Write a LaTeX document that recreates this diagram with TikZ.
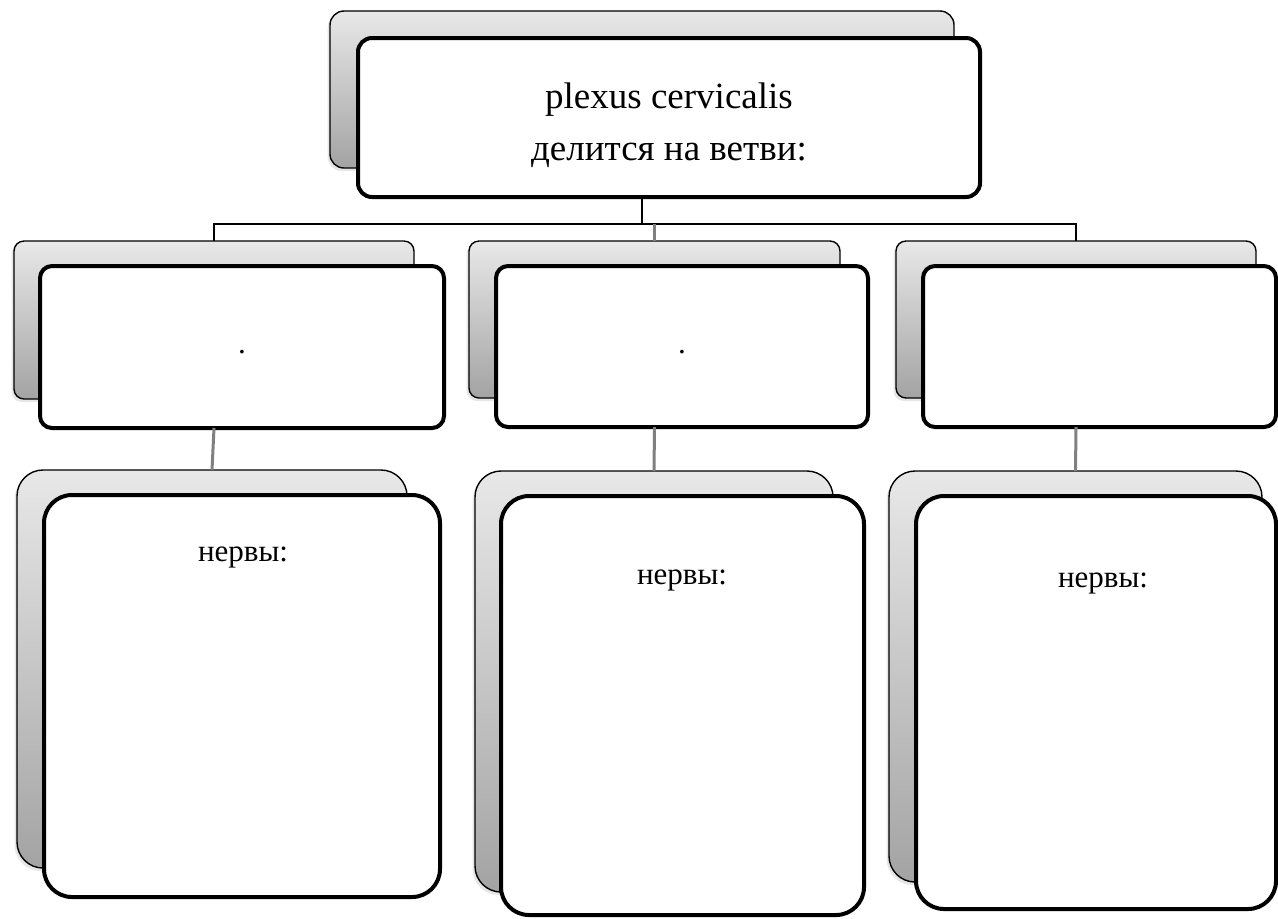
\documentclass[tikz,border=0pt]{standalone}
\usepackage{fontspec}
\setmainfont{Liberation Serif}[Ligatures=TeX]
\usetikzlibrary{shadows}
\begin{document}
\begin{tikzpicture}[x=0.5pt, y=-0.5pt,
  backbox/.style={draw=black, line width=0.7pt, top color=black!9, bottom color=black!36,
    inner sep=0pt, outer sep=0pt,
    drop shadow={shadow xshift=-1.2pt, shadow yshift=-1.5pt, opacity=0.2}},
  frontbox/.style={draw=black, line width=2pt, fill=white, inner sep=0pt, outer sep=0pt},
  busline/.style={line width=0.7pt},
  feedline/.style={line width=1.5pt, black!50},
  lbl/.style={font=\rmfamily\fontsize{15.5}{19}\selectfont, anchor=base}]
  \useasboundingbox (0,0) rectangle (1278,918);
  \node[backbox, rounded corners=7pt, minimum width=312pt, minimum height=78.5pt] (rootback) at (642,89.5) {};
  \node[frontbox, rounded corners=7pt, minimum width=311pt, minimum height=79.5pt] (rootfront) at (669,117.5) {};
  \node[backbox, rounded corners=5pt, minimum width=200pt, minimum height=79pt] (branchback1) at (214,320) {};
  \node[frontbox, rounded corners=6pt, minimum width=202pt, minimum height=81pt] (branchfront1) at (242,347) {};
  \node[backbox, rounded corners=5pt, minimum width=185.5pt, minimum height=78.5pt] (branchback2) at (654.5,319.5) {};
  \node[frontbox, rounded corners=6pt, minimum width=186pt, minimum height=80.5pt] (branchfront2) at (682,346.5) {};
  \node[backbox, rounded corners=5pt, minimum width=180pt, minimum height=78.5pt] (branchback3) at (1076,319.5) {};
  \node[frontbox, rounded corners=6pt, minimum width=176.5pt, minimum height=80.5pt] (branchfront3) at (1099.5,346.5) {};
  \node[backbox, rounded corners=13pt, minimum width=195pt, minimum height=199pt] (nerveback1) at (212,669) {};
  \node[frontbox, rounded corners=14pt, minimum width=198pt, minimum height=201pt] (nervefront1) at (242,696) {};
  \node[backbox, rounded corners=13pt, minimum width=179pt, minimum height=210.5pt] (nerveback2) at (654,681.5) {};
  \node[frontbox, rounded corners=14pt, minimum width=181.5pt, minimum height=209.5pt] (nervefront2) at (682.5,705.5) {};
  \node[backbox, rounded corners=13pt, minimum width=186.5pt, minimum height=205.5pt] (nerveback3) at (1075.5,676.5) {};
  \node[frontbox, rounded corners=14pt, minimum width=180pt, minimum height=206.5pt] (nervefront3) at (1096,702.5) {};
  \coordinate (bus) at (642,224);
  \draw[busline] (rootback.south |- rootfront.south) -- (bus);
  \draw[busline] (branchback1.north) -- (branchback1.north |- bus) -- (branchback3.north |- bus) -- (branchback3.north);
  \draw[feedline] (branchback2.north |- bus) -- (branchback2.north);
  \foreach \i in {1,2,3}
    \draw[feedline] (branchback\i.south |- branchfront\i.south) -- (nerveback\i.north);
  \node[font=\rmfamily\fontsize{18.5}{26}\selectfont, align=center] (roottext) at (669,125.5) {plexus cervicalis\\делится на ветви:};
  \node[lbl] (dot1) at (242,353) {.};
  \node[lbl] (dot2) at (682,353) {.};
  \node[lbl] (nerves1) at (243,561) {нервы:};
  \node[lbl] (nerves2) at (682,584) {нервы:};
  \node[lbl] (nerves3) at (1103,587) {нервы:};
\end{tikzpicture}
\end{document}
